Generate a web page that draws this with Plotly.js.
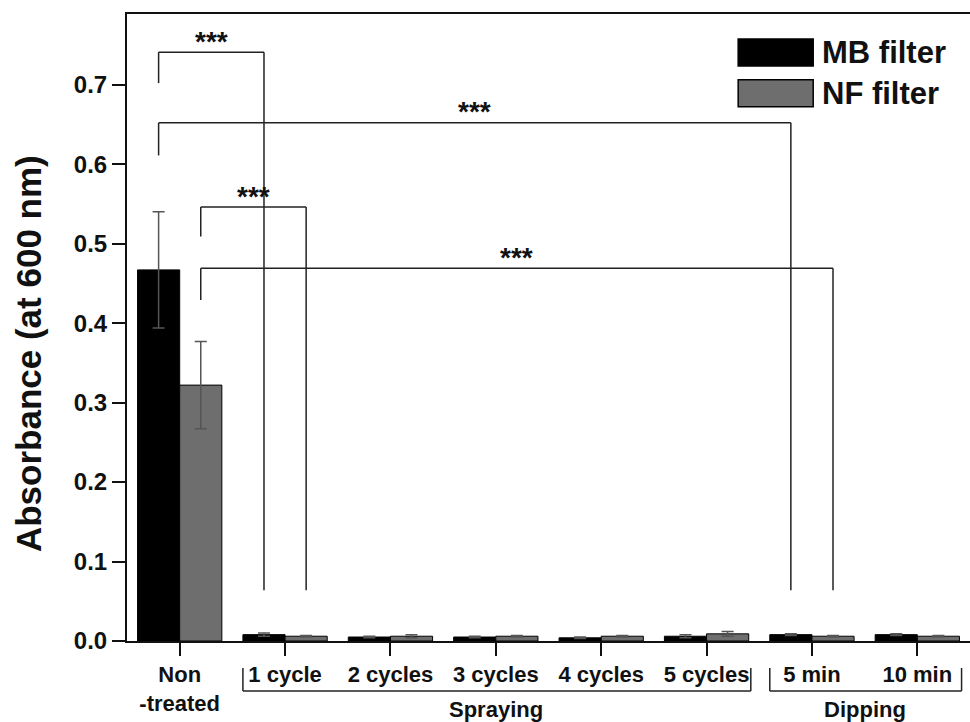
<!DOCTYPE html>
<html>
<head>
<meta charset="utf-8">
<script src="https://cdn.plot.ly/plotly-3.0.1.min.js"></script>
<style>html,body{margin:0;padding:0;background:#fff;}#chart{width:970px;height:722px;}</style>
</head>
<body>
<div id="chart"></div>
<script>
// ---- data ----
const categories = ['Non<br>-treated', '1 cycle', '2 cycles', '3 cycles', '4 cycles', '5 cycles', '5 min', '10 min'];
const seriesNames = ['MB filter', 'NF filter'];
const mbValues = [0.467, 0.008, 0.005, 0.005, 0.004, 0.006, 0.008, 0.008];
const mbErrors = [0.073, 0.002, 0.001, 0.001, 0.001, 0.002, 0.001, 0.001];
const nfValues = [0.322, 0.006, 0.006, 0.006, 0.006, 0.009, 0.006, 0.006];
const nfErrors = [0.055, 0.001, 0.002, 0.001, 0.001, 0.003, 0.001, 0.001];
const yTicks = [0.0, 0.1, 0.2, 0.3, 0.4, 0.5, 0.6, 0.7];
const yTitle = 'Absorbance (at 600 nm)';

// significance brackets: from (category, series) to (category, series)
const sigFromIdx = [0, 0, 0, 0];
const sigFromSeries = [0, 0, 1, 1];
const sigToIdx = [1, 6, 1, 6];
const sigToSeries = [0, 0, 1, 1];
const sigTop = [0.741, 0.652, 0.546, 0.469];
const sigLeftEnd = [0.702, 0.611, 0.509, 0.429];
const sigRightEnd = [0.064, 0.064, 0.064, 0.064];
const sigLabels = ['***', '***', '***', '***'];

// category groups under the axis
const groupNames = ['Spraying', 'Dipping'];
const groupStart = [1, 6];
const groupEnd = [5, 7];

// ---- styles ----
const FONT = 'Arial, "Liberation Sans", sans-serif';
const barColors = ['#000000', '#6e6e6e'];
const lineCol = '#222222';
const xIdx = categories.map((c, i) => i);

const traces = [
  {type: 'bar', name: seriesNames[0], x: xIdx, y: mbValues,
   marker: {color: barColors[0], line: {color: '#000', width: 1}},
   error_y: {type: 'data', array: mbErrors, visible: true, color: '#555', thickness: 1.5, width: 6}},
  {type: 'bar', name: seriesNames[1], x: xIdx, y: nfValues,
   marker: {color: barColors[1], line: {color: '#000', width: 1}},
   error_y: {type: 'data', array: nfErrors, visible: true, color: '#555', thickness: 1.5, width: 6}}
];

const seriesOffset = s => (s === 0 ? -0.2 : 0.2);
const shapes = [];
const annotations = [];

sigTop.forEach((top, k) => {
  const x0 = sigFromIdx[k] + seriesOffset(sigFromSeries[k]);
  const x1 = sigToIdx[k] + seriesOffset(sigToSeries[k]);
  const ln = {color: lineCol, width: 1.5};
  shapes.push({type: 'line', xref: 'x', yref: 'y', x0: x0, x1: x0, y0: sigLeftEnd[k], y1: top, line: ln});
  shapes.push({type: 'line', xref: 'x', yref: 'y', x0: x0, x1: x1, y0: top, y1: top, line: ln});
  shapes.push({type: 'line', xref: 'x', yref: 'y', x0: x1, x1: x1, y0: top, y1: sigRightEnd[k], line: ln});
  annotations.push({xref: 'x', yref: 'y', x: (x0 + x1) / 2, y: top, text: sigLabels[k],
    showarrow: false, yanchor: 'middle', yshift: 11,
    font: {family: FONT, size: 28, color: '#111', weight: 'bold'}});
});

// group brackets below x axis
const gTop = -0.043, gBot = -0.0797;
groupNames.forEach((g, k) => {
  const x0 = groupStart[k] - 0.40, x1 = groupEnd[k] + 0.42;
  const ln = {color: lineCol, width: 1.5};
  shapes.push({type: 'line', xref: 'x', yref: 'paper', x0: x0, x1: x0, y0: gTop, y1: gBot, line: ln});
  shapes.push({type: 'line', xref: 'x', yref: 'paper', x0: x0, x1: x1, y0: gBot, y1: gBot, line: ln});
  shapes.push({type: 'line', xref: 'x', yref: 'paper', x0: x1, x1: x1, y0: gBot, y1: gTop, line: ln});
  annotations.push({xref: 'x', yref: 'paper', x: (groupStart[k] + groupEnd[k]) / 2, y: -0.11,
    text: g, showarrow: false, yanchor: 'middle',
    font: {family: FONT, size: 22, color: '#111', weight: 'bold'}});
});

// custom legend with large swatches
const legY = [[0.917, 0.960], [0.852, 0.895]];
seriesNames.forEach((n, k) => {
  shapes.push({type: 'rect', xref: 'paper', yref: 'paper', x0: 0.725, x1: 0.814,
    y0: legY[k][0], y1: legY[k][1], fillcolor: barColors[k], line: {color: '#000', width: 1.5}});
  annotations.push({xref: 'paper', yref: 'paper', x: 0.822, y: (legY[k][0] + legY[k][1]) / 2,
    xanchor: 'left', yanchor: 'middle', text: n, showarrow: false,
    font: {family: FONT, size: 31, color: '#111', weight: 'bold'}});
});

// y-axis title (placed as rotated text to match original position)
annotations.push({xref: 'paper', yref: 'paper', x: -0.116, y: 0.458, text: yTitle,
  textangle: -90, showarrow: false, xanchor: 'center', yanchor: 'middle',
  font: {family: FONT, size: 35, color: '#111', weight: 'bold'}});

const layout = {
  width: 970, height: 722,
  margin: {l: 127, r: 0, t: 14, b: 81},
  paper_bgcolor: '#fff', plot_bgcolor: '#fff',
  showlegend: false,
  barmode: 'group', bargap: 0.2, bargroupgap: 0,
  font: {family: FONT, color: '#111'},
  xaxis: {
    type: 'linear', range: [-0.5, 7.5],
    tickvals: xIdx, ticktext: categories,
    ticks: 'outside', ticklen: 13, tickwidth: 2, tickcolor: '#111',
    showline: true, linecolor: '#111', linewidth: 2, mirror: true,
    showgrid: false, zeroline: false,
    tickfont: {family: FONT, size: 22, color: '#111', weight: 'bold'}
  },
  yaxis: {
    range: [0, 0.789],
    tickvals: yTicks, ticktext: yTicks.map(v => v.toFixed(1)),
    ticks: 'outside', ticklen: 13, tickwidth: 2, tickcolor: '#111',
    showline: true, linecolor: '#111', linewidth: 2, mirror: true,
    showgrid: false, zeroline: false,
    tickfont: {family: FONT, size: 24, color: '#111', weight: 'bold'}
  },
  shapes: shapes,
  annotations: annotations
};

Plotly.newPlot('chart', traces, layout, {displayModeBar: false, staticPlot: true});
</script>
</body>
</html>
